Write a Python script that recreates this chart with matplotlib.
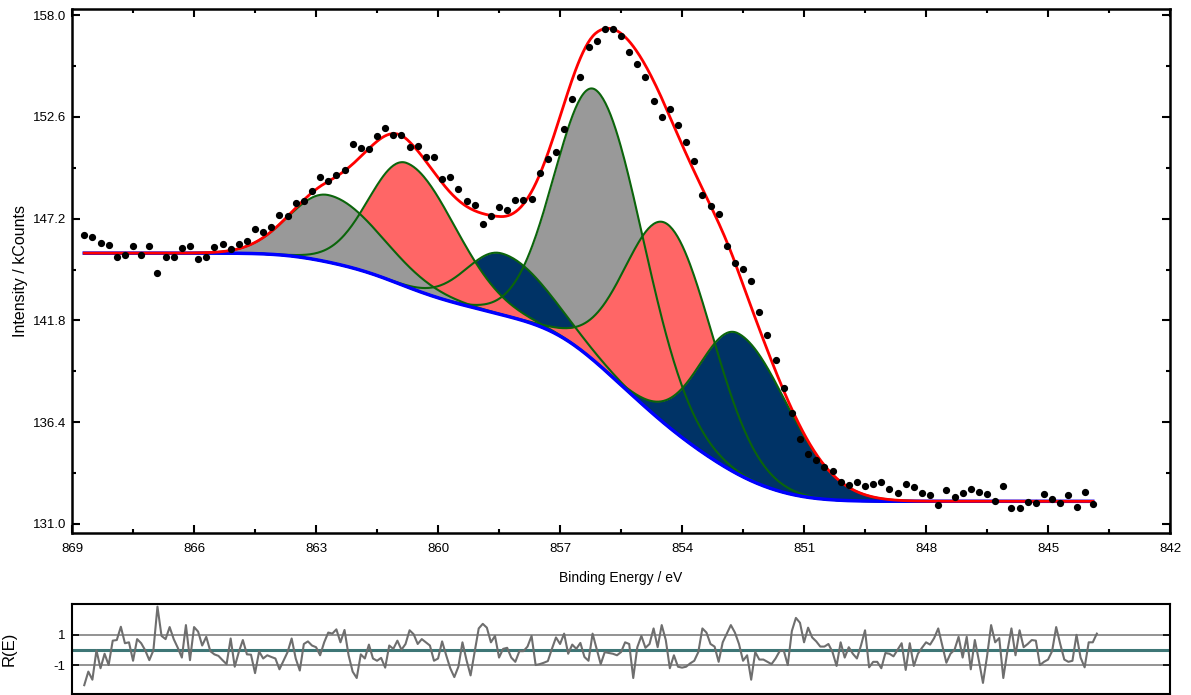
import numpy as np
import matplotlib
matplotlib.use("Agg")
import matplotlib.pyplot as plt
from matplotlib.ticker import FixedLocator

plt.rcParams['font.family'] = ['Liberation Sans', 'DejaVu Sans']

# measured spectrum (binding energy in eV, intensity in kCounts)
e_start, e_step = 868.7, 0.2
counts = [
    146.33, 146.21, 145.92, 145.82, 145.18, 145.27, 145.75, 145.27, 145.75, 144.33,
    145.18, 145.15, 145.66, 145.75, 145.04, 145.18, 145.71, 145.85, 145.59, 145.85,
    146.02, 146.66, 146.50, 146.78, 147.40, 147.35, 148.05, 148.15, 148.69, 149.40,
    149.19, 149.50, 149.78, 151.14, 150.95, 150.88, 151.60, 151.99, 151.62, 151.62,
    151.01, 151.05, 150.48, 150.45, 149.29, 149.40, 148.78, 148.15, 147.92, 146.92,
    147.35, 147.83, 147.66, 148.19, 148.19, 148.23, 149.60, 150.36, 150.75, 151.96,
    153.56, 154.73, 156.33, 156.64, 157.25, 157.26, 156.89, 156.02, 155.40, 154.70,
    153.46, 152.61, 153.00, 152.17, 151.29, 150.26, 148.45, 147.88, 147.45, 145.76,
    144.83, 144.53, 143.89, 142.24, 141.03, 139.70, 138.23, 136.87, 135.49, 134.72,
    134.39, 134.04, 133.82, 133.25, 133.07, 133.25, 133.01, 133.12, 133.20, 132.86,
    132.66, 133.12, 132.98, 132.66, 132.56, 131.98, 132.81, 132.45, 132.63, 132.87,
    132.68, 132.58, 132.22, 133.01, 131.83, 131.85, 132.15, 132.10, 132.61, 132.34,
    132.10, 132.56, 131.92, 132.68, 132.05,
]

# fitted components: centre, apex value, width on high-BE side, width on low-BE side
comp_center = [862.70, 860.77, 858.45, 856.10, 854.34, 852.62]
comp_apex = [148.45, 150.15, 145.36, 153.99, 146.87, 141.11]
comp_sig_hi = [0.95, 0.92, 0.85, 1.00, 1.05, 0.95]
comp_sig_lo = [1.30, 1.20, 1.18, 1.15, 1.10, 1.25]
comp_color = ['#999999', '#ff6666', '#003366', '#999999', '#ff6666', '#003366']
draw_order = [3, 2, 1, 0, 4, 5]

# Shirley background end levels
bg_high, bg_low = 145.37, 132.20

# residual R(E), 0.1 eV steps
res_step = 0.1
residual = [
    -2.32, -1.43, -1.96, -0.04, -1.21, -0.26, -1.0, 0.6, 0.64, 1.51,
    0.43, 0.49, -0.72, 0.7, 0.43, -0.04, -0.68, -0.04, 2.83, 0.91,
    0.7, 1.49, 0.7, 0.13, -0.51, 1.62, -0.68, 1.49, 1.19, 0.28,
    0.85, -0.09, -0.3, -0.4, -0.68, -0.94, 0.74, -1.11, -0.15, 0.64,
    -0.3, -0.32, -1.53, -0.11, -0.57, -0.36, -0.47, -0.57, -1.28, -0.72,
    -0.15, 0.74, -0.57, -1.36, 0.38, 0.55, 0.28, 0.17, -0.36, 0.49,
    1.13, 1.06, 1.34, 0.49, 1.3, -0.36, -1.43, -1.85, -0.3, -0.57,
    0.34, -0.57, -0.72, -0.53, -1.17, 0.28, 0.06, 0.6,
    0.0, 0.38, 1.28, 1.02, 0.38, 0.7, 0.49, 0.28, -0.72, -0.57,
    0.55, -0.36, -1.21, -1.79, -1.11, 0.49, -0.68, -1.68, -0.15, 1.4,
    1.7, 1.45, 0.49, 0.91, -0.51, 0.06, 0.13, -0.51, -0.79, -0.09,
    -0.09, 0.21, 0.91, -1.0, -0.94, -0.85, -0.74, 0.06, 0.81, 0.38,
    1.06, -0.26, 0.34, 0.06, 0.45, -0.47, -0.72, 1.06, 0.06, -0.94,
    -0.15, -0.21, -0.26, -0.36, -0.15, 0.49, 0.38, -1.85, 0.17, 0.91,
    0.13, 0.38, 1.4, 0.17, 1.62, 0.64, -1.21, -0.36, -1.11, -1.17,
    -1.11, -0.89, -0.72, -0.15, 1.4, 1.13, 0.38, 0.21, -0.79, 0.49,
    1.06, 1.62, 1.13, 0.38, -0.72, -0.36, -1.96, -0.15, -0.64, -0.64,
    -0.79, -0.94, -0.57, -0.09, -0.04, -1.0, 1.23, 2.09, 1.77,
    0.49, 1.45, 0.81, 0.55, 0.21, 0.21, 0.38, -0.15, -1.06, 0.49,
    -0.51, 0.17, -0.26, -0.57, 0.28, 1.28, -1.15, -0.79, -0.79, -1.21,
    -0.21, -0.26, -0.43, 0.0, 0.43, -1.32, 0.43, -1.06, -0.26, 0.13,
    0.49, 0.34, 0.77, 1.4, 0.28, -0.85, -0.26, 0.0, 0.85, -0.51,
    0.85, -1.28, 0.64, -0.72, -2.17, -0.43, 1.62, 0.49, 0.77, -1.85,
    -0.09, 1.4, -0.36, 1.28, 0.17, 0.38, 0.64, 0.6, -1.0, -0.79,
    -0.64, -0.09, 1.49, 0.38, -0.64, -0.79, -0.72, 0.98, -0.51, -1.15,
    0.49, 0.49, 1.06,
]

e_data = e_start - e_step * np.arange(len(counts))
e_res = e_start - res_step * np.arange(len(residual))


def component(e, c, h, s_hi, s_lo):
    s = np.where(e >= c, s_hi, s_lo)
    return h * np.exp(-(e - c) ** 2 / (2 * s ** 2))


def shirley(e, total):
    cum = np.concatenate([[0], np.cumsum((total[1:] + total[:-1]) / 2 * np.diff(e))])
    return bg_low + (bg_high - bg_low) * cum / cum[-1]


# model on a fine grid, low BE -> high BE for the Shirley integral
e_fit = np.linspace(e_data[-1], e_data[0], 800)
heights = np.array(comp_apex) - 140.0
for _ in range(8):
    comps = [component(e_fit, c, h, a, b) for c, h, a, b in
             zip(comp_center, heights, comp_sig_hi, comp_sig_lo)]
    background = shirley(e_fit, np.sum(comps, axis=0))
    heights = np.array(comp_apex) - np.interp(comp_center, e_fit, background)
comps = [component(e_fit, c, h, a, b) for c, h, a, b in
         zip(comp_center, heights, comp_sig_hi, comp_sig_lo)]
total = np.sum(comps, axis=0)
background = shirley(e_fit, total)
envelope = background + total

fig = plt.figure(figsize=(11.91, 6.95), dpi=100)
ax = fig.add_axes([0.0605, 0.2331, 0.9219, 0.7539])
axr = fig.add_axes([0.0605, 0.0014, 0.9219, 0.1295])

for i in draw_order:
    ax.fill_between(e_fit, background, background + comps[i], color=comp_color[i], lw=0, zorder=2)
for i in draw_order:
    ax.plot(e_fit, background + comps[i], color='#0b650b', lw=1.5, zorder=3)

ax.plot(e_fit, background, color='#0000ff', lw=2.5, zorder=4)
ax.plot(e_fit, envelope, color='#ff0000', lw=2, zorder=5)
ax.plot(e_data, counts, 'o', color='black', ms=4.2, zorder=6)

x_major = [869, 866, 863, 860, 857, 854, 851, 848, 845, 842]
ax.set_xlim(869, 842)
ax.set_ylim(130.52, 158.32)
ax.xaxis.set_major_locator(FixedLocator(x_major))
ax.xaxis.set_minor_locator(FixedLocator([x - 1.5 for x in x_major[:-1]]))
ax.yaxis.set_major_locator(FixedLocator([131.0, 136.4, 141.8, 147.2, 152.6, 158.0]))
ax.yaxis.set_minor_locator(FixedLocator([133.7, 139.1, 144.5, 149.9, 155.3]))
ax.yaxis.set_major_formatter(plt.FuncFormatter(lambda v, p: f"{v:.1f}"))
ax.tick_params(which='both', direction='in', top=True, right=True, labelsize=9.5, width=1.5)
ax.tick_params(which='major', length=6)
ax.tick_params(which='minor', length=3)
ax.tick_params(axis='x', pad=7)
ax.tick_params(axis='y', pad=4)
for sp in ax.spines.values():
    sp.set_linewidth(1.8)
ax.set_xlabel('Binding Energy / eV', fontsize=10, labelpad=12)
ax.set_ylabel('Intensity / kCounts', fontsize=11.5, labelpad=4)

# residual panel
axr.axhline(1, color='#808080', lw=1.2, zorder=1)
axr.axhline(-1, color='#808080', lw=1.2, zorder=1)
axr.axhline(0, color='#3e7676', lw=2.2, zorder=1)
axr.plot(e_res, residual, color='#6e6e6e', lw=1.5, zorder=2)
axr.set_xlim(869, 842)
axr.set_ylim(-2.9, 3.0)
axr.set_xticks([])
axr.set_yticks([1, -1])
axr.set_yticklabels(['1', '-1'])
axr.tick_params(direction='in', right=True, length=5, labelsize=9.5, pad=5, width=1.2)
for sp in axr.spines.values():
    sp.set_linewidth(1.5)
axr.set_ylabel('R(E)', fontsize=12, labelpad=26)

fig.savefig('out.png', dpi=100)
